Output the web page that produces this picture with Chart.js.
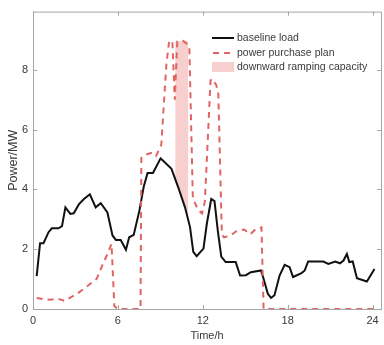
<!DOCTYPE html>
<html>
<head>
<meta charset="utf-8">
<script src="https://cdn.jsdelivr.net/npm/chart.js@4"></script>
<style>
  html, body { margin: 0; padding: 0; background: #fff; }
  #wrap { width: 384px; height: 345px; }
</style>
</head>
<body>
<div id="wrap"><canvas id="c" width="384" height="345"></canvas></div>
<script>
// baseline load (black) and power purchase plan (red dashed)
const loadT = [0.26, 0.5, 0.74, 1.1, 1.33, 1.8, 2.05, 2.29, 2.64, 2.88, 3.24, 3.6, 4.02, 4.43, 4.79,
  5.26, 5.62, 5.86, 6.2, 6.57, 6.8, 7.12, 7.52, 7.83, 8.1, 8.48, 9.02, 9.31, 9.79, 10.26, 10.74,
  11.1, 11.33, 11.57, 12.05, 12.29, 12.6, 12.83, 13.07, 13.31, 13.62, 14.33, 14.64, 15.05, 15.4,
  16.12, 16.3, 16.6, 16.83, 17.07, 17.43, 17.79, 18.14, 18.38, 18.98, 19.21, 19.45, 20.52, 20.88,
  21.36, 21.7, 21.95, 22.19, 22.36, 22.6, 22.9, 23.6, 24.14];
const loadMW = [1.1, 2.2, 2.2, 2.57, 2.7, 2.7, 2.77, 3.4, 3.18, 3.2, 3.5, 3.68, 3.84, 3.4, 3.54,
  3.23, 2.46, 2.31, 2.31, 1.98, 2.4, 2.48, 3.29, 4.1, 4.55, 4.55, 5.04, 4.91, 4.69, 4.08, 3.41,
  2.74, 1.91, 1.77, 2.02, 2.86, 3.68, 3.61, 2.6, 1.75, 1.57, 1.57, 1.12, 1.13, 1.23,
  1.29, 1.01, 0.51, 0.37, 0.46, 1.12, 1.48, 1.4, 1.07, 1.2, 1.29, 1.59, 1.59, 1.51,
  1.59, 1.53, 1.62, 1.84, 1.57, 1.59, 1.03, 0.92, 1.34];

const planT = [0.26, 0.7, 1.2, 1.8, 2.24, 2.7, 3.12, 3.83, 4.5, 4.9, 5.26, 5.55, 5.75, 6.0, 7.6,
  7.66, 8.0, 8.48, 8.71, 9.07, 9.43, 9.62, 9.85, 10.02, 10.2, 10.62, 11.05, 11.3, 11.69, 11.95,
  12.15, 12.55, 12.65, 12.95, 13.1, 13.35, 13.5, 13.98, 14.33, 14.93, 15.36, 15.76, 16.15, 16.3, 24.14];
const planMW = [0.37, 0.33, 0.31, 0.34, 0.27, 0.4, 0.51, 0.76, 1.01, 1.46, 1.84, 2.18, 0.1, 0, 0,
  5.05, 5.17, 5.24, 5.13, 5.5, 8.19, 8.95, 8.97, 7.0, 8.95, 8.97, 8.8, 3.7, 3.3, 3.2,
  3.6, 7.65, 7.7, 7.5, 7.2, 2.5, 2.4, 2.46, 2.59, 2.66, 2.5, 2.68, 2.73, 0, 0];

// downward ramping capacity band (between plan and load)
const rampT = [10.05, 10.98];
const rampTop = [8.97, 8.97];

const xTicks = [0, 6, 12, 18, 24];
const yTicks = [0, 2, 4, 6, 8];

const RED = '#e06464';
const PINK = '#f8cfcf';
const AXIS = '#a6a6a6';
const TXT = '#3a3a3a';
const FONT = '"Liberation Sans", Arial, sans-serif';

const pts = (xs, ys) => xs.map((x, i) => ({ x, y: ys[i] }));

// inward ticks + full box, MATLAB style
const boxPlugin = {
  id: 'box',
  afterDraw(chart) {
    const { ctx, chartArea: a, scales } = chart;
    ctx.save();
    ctx.strokeStyle = AXIS;
    ctx.lineWidth = 1;
    ctx.beginPath();
    ctx.rect(a.left + 0.5, a.top + 0.5, a.right - a.left, a.bottom - a.top);
    xTicks.forEach(v => {
      const px = Math.round(scales.x.getPixelForValue(v)) + 0.5;
      ctx.moveTo(px, a.bottom); ctx.lineTo(px, a.bottom - 4);
      ctx.moveTo(px, a.top); ctx.lineTo(px, a.top + 4);
    });
    yTicks.forEach(v => {
      const py = Math.round(scales.y.getPixelForValue(v)) + 0.5;
      ctx.moveTo(a.left, py); ctx.lineTo(a.left + 4, py);
      ctx.moveTo(a.right, py); ctx.lineTo(a.right - 4, py);
    });
    ctx.stroke();
    ctx.restore();
  }
};

// legend inside the upper right of the plot
const legendPlugin = {
  id: 'inLegend',
  afterDraw(chart) {
    const { ctx } = chart;
    const x0 = 212, x1 = 234, tx = 237;
    const rows = [38, 53, 67];
    const labels = chart.data.datasets.map(d => d.label);
    ctx.save();
    ctx.font = '10.5px ' + FONT;
    ctx.fillStyle = TXT;
    ctx.textBaseline = 'middle';
    // baseline load
    ctx.strokeStyle = '#111';
    ctx.lineWidth = 2;
    ctx.beginPath(); ctx.moveTo(x0, rows[0]); ctx.lineTo(x1, rows[0]); ctx.stroke();
    // plan
    ctx.strokeStyle = RED;
    ctx.setLineDash([6, 5]);
    ctx.beginPath(); ctx.moveTo(x0 + 1, rows[1]); ctx.lineTo(x1, rows[1]); ctx.stroke();
    ctx.setLineDash([]);
    // ramp
    ctx.fillStyle = PINK;
    ctx.fillRect(x0, rows[2] - 5, x1 - x0, 10);
    ctx.fillStyle = TXT;
    ctx.fillText(labels[0], tx, rows[0]);
    ctx.fillText(labels[1], tx, rows[1]);
    ctx.fillText(labels[2], tx, rows[2]);
    ctx.restore();
  }
};

new Chart(document.getElementById('c'), {
  type: 'line',
  data: {
    datasets: [
      { label: 'baseline load', data: pts(loadT, loadMW), borderColor: '#111',
        borderWidth: 2, pointRadius: 0, tension: 0, fill: false, order: 1 },
      { label: 'power purchase plan', data: pts(planT, planMW), borderColor: RED,
        borderWidth: 2, borderDash: [6, 5], pointRadius: 0, tension: 0, fill: false, order: 0 },
      { label: 'downward ramping capacity', data: pts(rampT, rampTop), borderWidth: 0,
        borderColor: 'rgba(0,0,0,0)', backgroundColor: PINK, pointRadius: 0, tension: 0,
        fill: { target: 0 }, order: 5 },
    ]
  },
  options: {
    responsive: false,
    animation: false,
    layout: { padding: { top: 10, right: 3, left: 0, bottom: 0 } },
    plugins: { legend: { display: false }, tooltip: { enabled: false } },
    scales: {
      x: {
        type: 'linear', min: 0, max: 24.6,
        afterBuildTicks: s => { s.ticks = xTicks.map(v => ({ value: v })); },
        afterFit: s => { s.height = 36; },
        grid: { display: false, drawTicks: false },
        border: { color: AXIS },
        ticks: { color: TXT, font: { family: FONT, size: 11 }, padding: 5, maxRotation: 0 },
        title: { display: true, text: 'Time/h', color: TXT, font: { family: FONT, size: 11 }, padding: { top: 1, bottom: 2 } }
      },
      y: {
        min: 0, max: 9.95,
        afterBuildTicks: s => { s.ticks = yTicks.map(v => ({ value: v })); },
        afterFit: s => { s.width = 33; },
        grid: { display: false, drawTicks: false },
        border: { color: AXIS },
        ticks: { color: TXT, font: { family: FONT, size: 11 }, padding: 5 },
        title: { display: true, text: 'Power/MW', color: TXT, font: { family: FONT, size: 12.5 }, padding: { top: 6, bottom: 0 } }
      }
    }
  },
  plugins: [boxPlugin, legendPlugin]
});
</script>
</body>
</html>
